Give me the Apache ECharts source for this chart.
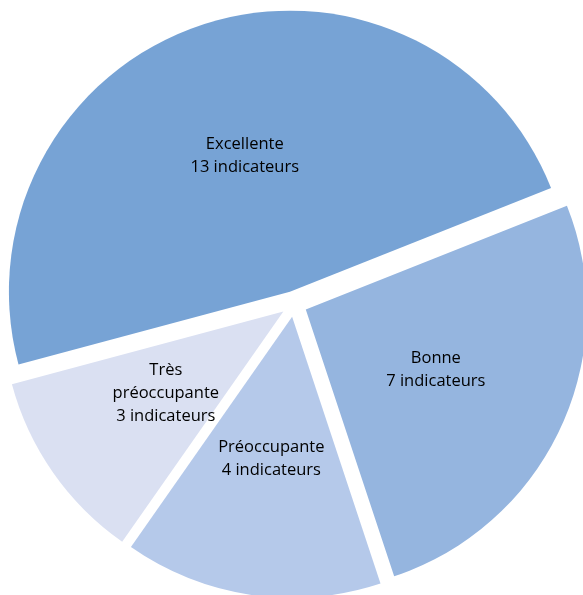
<!DOCTYPE html>
<html>
<head>
<meta charset="utf-8">
<script src="https://cdn.jsdelivr.net/npm/echarts@6/dist/echarts.min.js"></script>
<style>
  html, body { margin: 0; padding: 0; background: #fff; }
</style>
</head>
<body>
<div id="pieView" style="width:583px;height:595px;"></div>
<script>
    // répartition des indicateurs
    var categories = ['Excellente', 'Bonne', 'Préoccupante', 'Très\npréoccupante']
    var counts = [13, 7, 4, 3]
    var colors = ['#77a3d5', '#95b5df', '#b5c9ea', '#dae0f2']

    var pieData = categories.map(function (name, i) {
        return {
            name: name,
            value: counts[i],
            selected: true,
            itemStyle: { color: colors[i] }
        }
    })

    var chart = echarts.init(document.getElementById('pieView'))
    chart.setOption({
        animation: false,
        series: [{
            type: 'pie',
            center: [294, 304],
            radius: [0, 281],
            startAngle: 195,
            clockwise: true,
            selectedMode: 'multiple',
            selectedOffset: 13,
            data: pieData,
            itemStyle: { borderWidth: 0 },
            label: {
                position: 'inner',
                color: '#000',
                fontFamily: 'Open Sans',
                fontSize: 16.5,
                lineHeight: 23,
                formatter: function (p) {
                    return p.name + '\n' + p.value + ' indicateurs'
                }
            },
            labelLine: { show: false },
            emphasis: { disabled: true }
        }]
    })
</script>
</body>
</html>
